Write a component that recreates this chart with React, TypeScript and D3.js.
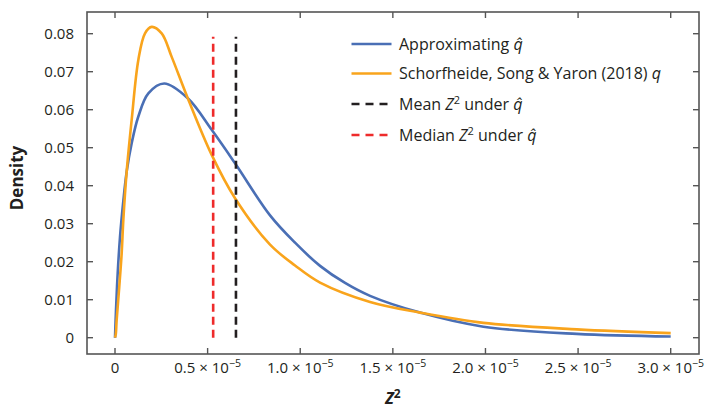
import React from "react";
import * as d3 from "d3";

// x in units of Z^2, y density
const blueX = [0, 0.0054e-5, 0.0146e-5, 0.027e-5, 0.045e-5, 0.063e-5, 0.09e-5, 0.126e-5, 0.18e-5, 0.266e-5, 0.393e-5, 0.522e-5, 0.648e-5, 0.837e-5, 0.972e-5, 1.107e-5, 1.242e-5, 1.377e-5, 1.647e-5, 1.989e-5, 2.493e-5, 3.0e-5];
const blueY = [0, 0.0073, 0.017, 0.0265, 0.036, 0.0437, 0.0512, 0.0582, 0.0643, 0.0669, 0.063, 0.0547, 0.0459, 0.0322, 0.025, 0.0189, 0.0144, 0.011, 0.0066, 0.0029, 0.001, 0.0003];

const orangeX = [0, 0.004e-5, 0.009e-5, 0.023e-5, 0.036e-5, 0.045e-5, 0.063e-5, 0.09e-5, 0.126e-5, 0.162e-5, 0.198e-5, 0.252e-5, 0.306e-5, 0.393e-5, 0.522e-5, 0.648e-5, 0.837e-5, 0.972e-5, 1.107e-5, 1.377e-5, 1.647e-5, 1.989e-5, 2.493e-5, 3.0e-5];
const orangeY = [0, 0.0008, 0.0047, 0.0134, 0.0222, 0.031, 0.0437, 0.0573, 0.0731, 0.0801, 0.0818, 0.0801, 0.0739, 0.063, 0.0481, 0.0367, 0.0245, 0.019, 0.0145, 0.0094, 0.0066, 0.0039, 0.0022, 0.0012];

const meanZ2 = 0.653e-5;
const medianZ2 = 0.53e-5;
const vlineTop = 0.0792;

const xTicks = [0, 0.5e-5, 1.0e-5, 1.5e-5, 2.0e-5, 2.5e-5, 3.0e-5];
const xTickMantissa = ["0", "0.5", "1.0", "1.5", "2.0", "2.5", "3.0"];
const yTicks = [0, 0.01, 0.02, 0.03, 0.04, 0.05, 0.06, 0.07, 0.08];
const yTickLabels = ["0", "0.01", "0.02", "0.03", "0.04", "0.05", "0.06", "0.07", "0.08"];

const BLUE = "#4a6fb5";
const ORANGE = "#f9a41c";
const RED = "#ee2b2b";
const BLACK = "#231f20";
const AXIS = "#555555";
const FONT = "'Open Sans', 'Noto Sans', sans-serif";

export default function App() {
  const W = 716, H = 409;
  const frame = { l: 87, r: 699, t: 12, b: 354 };
  const x = d3.scaleLinear().domain([0, 3e-5]).range([115, 670.7]);
  const y = d3.scaleLinear().domain([0, 0.08]).range([337.7, 33.7]);

  const line = d3
    .line<[number, number]>()
    .x((d) => x(d[0]))
    .y((d) => y(d[1]))
    .curve(d3.curveCatmullRom.alpha(0.5));

  const bluePts = blueX.map((v, i) => [v, blueY[i]] as [number, number]);
  const orangePts = orangeX.map((v, i) => [v, orangeY[i]] as [number, number]);

  const tickLen = 6;
  const legendX0 = 351.5, legendX1 = 391.5, legendTextX = 399;
  const legendRows = [44, 73.5, 104, 135];

  const hatQ = <tspan fontStyle="italic">q̂</tspan>;

  return (
    <svg width={W} height={H} style={{ position: "absolute", left: 0, top: 0, background: "#fff" }} fontFamily={FONT}>
      {/* curves */}
      <path d={line(bluePts) || ""} fill="none" stroke={BLUE} strokeWidth={2.6} strokeLinejoin="round" />
      <path d={line(orangePts) || ""} fill="none" stroke={ORANGE} strokeWidth={2.6} strokeLinejoin="round" />
      {/* vertical dashed lines */}
      <line x1={x(medianZ2)} x2={x(medianZ2)} y1={y(0)} y2={y(vlineTop)} stroke={RED} strokeWidth={2.6} strokeDasharray="8,5" />
      <line x1={x(meanZ2)} x2={x(meanZ2)} y1={y(0)} y2={y(vlineTop)} stroke={BLACK} strokeWidth={2.6} strokeDasharray="8,5" />

      {/* frame */}
      <rect x={frame.l} y={frame.t} width={frame.r - frame.l} height={frame.b - frame.t} fill="none" stroke={AXIS} strokeWidth={1.6} />
      {xTicks.map((t, i) => (
        <g key={"xt" + i}>
          <line x1={x(t)} x2={x(t)} y1={frame.b} y2={frame.b - tickLen} stroke={AXIS} strokeWidth={1.4} />
          <line x1={x(t)} x2={x(t)} y1={frame.t} y2={frame.t + tickLen} stroke={AXIS} strokeWidth={1.4} />
          <text x={x(t)} y={373} textAnchor="middle" fontSize={15} fill="#231f20">
            {i === 0 ? (
              xTickMantissa[i]
            ) : (
              <>
                {xTickMantissa[i] + " × 10"}
                <tspan dy={-6} fontSize={10.5}>{"−5"}</tspan>
              </>
            )}
          </text>
        </g>
      ))}
      {yTicks.map((t, i) => (
        <g key={"yt" + i}>
          <line x1={frame.l} x2={frame.l + tickLen} y1={y(t)} y2={y(t)} stroke={AXIS} strokeWidth={1.4} />
          <line x1={frame.r} x2={frame.r - tickLen} y1={y(t)} y2={y(t)} stroke={AXIS} strokeWidth={1.4} />
          <text x={74} y={y(t)} dy="0.35em" textAnchor="end" fontSize={15} fill="#231f20">
            {yTickLabels[i]}
          </text>
        </g>
      ))}

      {/* axis titles */}
      <text transform="translate(23,178) rotate(-90)" textAnchor="middle" fontSize={17} fontWeight="bold" fill="#231f20">
        Density
      </text>
      <text x={393} y={404} textAnchor="middle" fontSize={16} fontWeight="bold" fill="#231f20">
        <tspan fontStyle="italic">Z</tspan>
        <tspan dy={-6} fontSize={12}>2</tspan>
      </text>

      {/* legend */}
      <line x1={legendX0} x2={legendX1} y1={legendRows[0]} y2={legendRows[0]} stroke={BLUE} strokeWidth={2.6} />
      <line x1={legendX0} x2={legendX1} y1={legendRows[1]} y2={legendRows[1]} stroke={ORANGE} strokeWidth={2.6} />
      <line x1={legendX0} x2={legendX1} y1={legendRows[2]} y2={legendRows[2]} stroke={BLACK} strokeWidth={2.6} strokeDasharray="8,6" />
      <line x1={legendX0} x2={legendX1} y1={legendRows[3]} y2={legendRows[3]} stroke={RED} strokeWidth={2.6} strokeDasharray="8,6" />

      <text x={legendTextX} y={legendRows[0]} dy="0.35em" fontSize={16} fill="#231f20">
        Approximating {hatQ}
      </text>
      <text x={legendTextX} y={legendRows[1]} dy="0.35em" fontSize={16} fill="#231f20">
        Schorfheide, Song &amp; Yaron (2018) <tspan fontStyle="italic">q</tspan>
      </text>
      <text x={legendTextX} y={legendRows[2]} dy="0.35em" fontSize={16} fill="#231f20">
        Mean <tspan fontStyle="italic">Z</tspan>
        <tspan dy={-6} fontSize={11}>2</tspan>
        <tspan dy={6}> under </tspan>
        {hatQ}
      </text>
      <text x={legendTextX} y={legendRows[3]} dy="0.35em" fontSize={16} fill="#231f20">
        Median <tspan fontStyle="italic">Z</tspan>
        <tspan dy={-6} fontSize={11}>2</tspan>
        <tspan dy={6}> under </tspan>
        {hatQ}
      </text>
    </svg>
  );
}
